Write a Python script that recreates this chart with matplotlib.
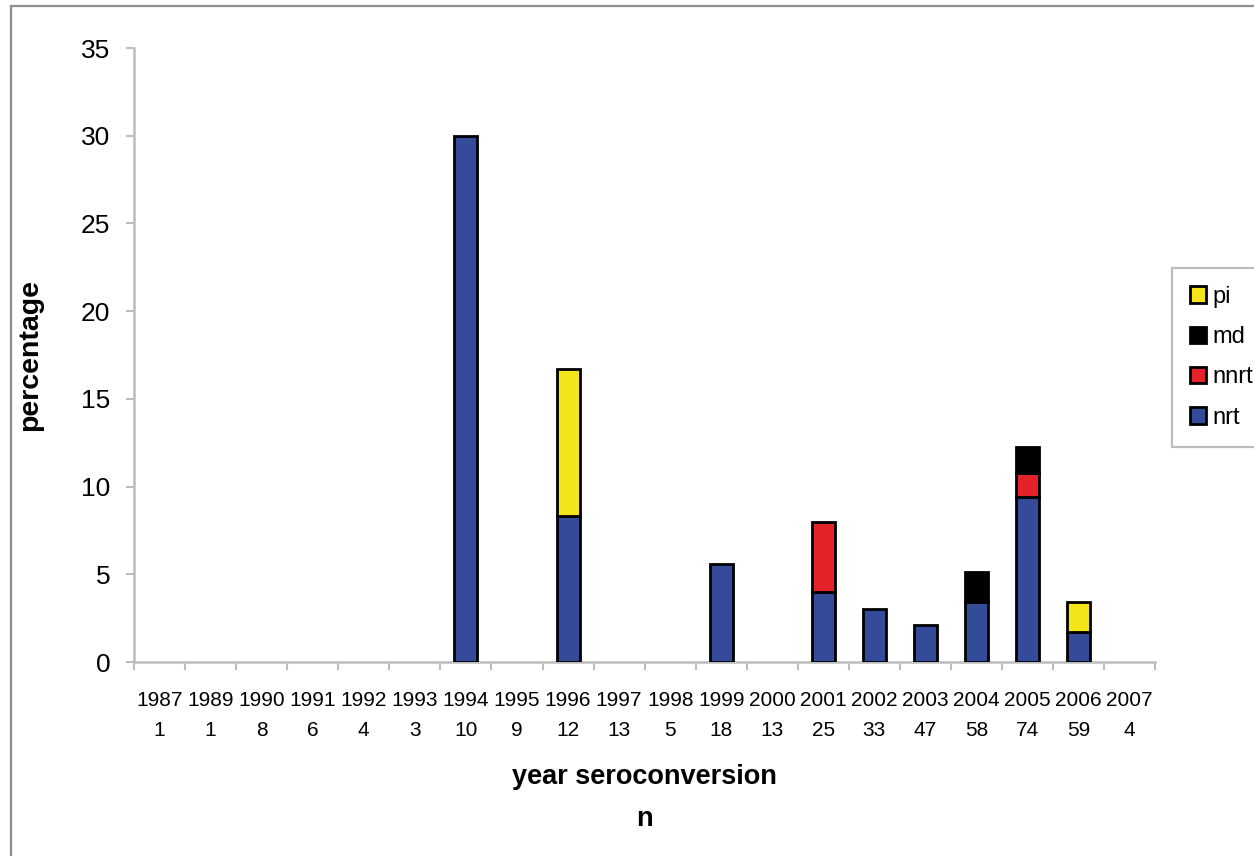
"""Stacked bars: resistance class percentage by year of seroconversion."""

import numpy as np
import matplotlib.pyplot as plt
from matplotlib.patches import Rectangle

plt.rcParams["font.family"] = ["Liberation Sans", "DejaVu Sans"]

years = ["1987", "1989", "1990", "1991", "1992", "1993", "1994", "1995", "1996", "1997",
         "1998", "1999", "2000", "2001", "2002", "2003", "2004", "2005", "2006", "2007"]
n_counts = ["1", "1", "8", "6", "4", "3", "10", "9", "12", "13",
            "5", "18", "13", "25", "33", "47", "58", "74", "59", "4"]

nrt = [0, 0, 0, 0, 0, 0, 30.0, 0, 8.3, 0, 0, 5.6, 0, 4.0, 3.0, 2.1, 3.4, 9.4, 1.7, 0]
nnrt = [0, 0, 0, 0, 0, 0, 0, 0, 0, 0, 0, 0, 0, 4.0, 0, 0, 0, 1.4, 0, 0]
md = [0, 0, 0, 0, 0, 0, 0, 0, 0, 0, 0, 0, 0, 0, 0, 0, 1.75, 1.45, 0, 0]
pi = [0, 0, 0, 0, 0, 0, 0, 0, 8.4, 0, 0, 0, 0, 0, 0, 0, 0, 0, 1.7, 0]

C_NRT = "#334B98"
C_NNRT = "#E4222A"
C_MD = "#000000"
C_PI = "#F3E51A"
AXIS_GREY = "#BDBDBD"


def main():
    fig = plt.figure(figsize=(12.54, 8.56), dpi=100)
    fig.patch.set_facecolor("white")
    ax = fig.add_axes([0.1069, 0.2266, 0.8143, 0.7173])

    # outer chart border (Excel-style frame, cut off on right/bottom)
    fig.patches.append(Rectangle((0.0085, -0.05), 1.2, 1.043, transform=fig.transFigure,
                                 fill=False, edgecolor="#8E8E8E", linewidth=1.6))

    x = np.arange(len(years))
    w = 0.45
    bottom = np.zeros(len(years))
    handles = {}
    for vals, label, color in [
        (nrt, "nrt", C_NRT),
        (nnrt, "nnrt", C_NNRT),
        (md, "md", C_MD),
        (pi, "pi", C_PI),
    ]:
        vals = np.array(vals, dtype=float)
        mask = vals > 0
        h = ax.bar(x[mask], vals[mask], w, bottom=bottom[mask], color=color,
                   edgecolor="black", linewidth=2.0, label=label, zorder=3)
        handles[label] = h
        bottom = bottom + vals

    ax.set_xlim(-0.5, len(years) - 0.5)
    ax.set_ylim(0, 35)
    ax.set_yticks(np.arange(0, 36, 5))

    ax.set_xticks(x)
    ax.set_xticklabels([f"{y}\n{c}" for y, c in zip(years, n_counts)],
                       fontsize=15, linespacing=1.75)
    ax.set_xticks(np.arange(-0.5, len(years)), minor=True)
    ax.tick_params(axis="x", which="major", length=0, pad=21)
    ax.tick_params(axis="x", which="minor", length=6, width=1.5, color=AXIS_GREY)
    ax.tick_params(axis="y", length=6, width=1.5, color=AXIS_GREY, labelsize=19, pad=11)

    for s in ["top", "right"]:
        ax.spines[s].set_visible(False)
    for s in ["left", "bottom"]:
        ax.spines[s].set_color(AXIS_GREY)
        ax.spines[s].set_linewidth(1.8)

    ax.set_xlabel("year seroconversion\nn", fontsize=19.5, fontweight="bold",
                  linespacing=1.8, labelpad=17)
    ax.set_ylabel("percentage", fontsize=20.5, fontweight="bold", labelpad=27)

    order = ["pi", "md", "nnrt", "nrt"]
    leg = fig.legend([handles[k] for k in order], order, loc="upper left",
                     bbox_to_anchor=(0.9346, 0.687), fontsize=17, frameon=True,
                     fancybox=False, edgecolor="#BDBDBD", framealpha=1,
                     handlelength=0.7, handleheight=0.7, handletextpad=0.25,
                     labelspacing=0.78, borderpad=0.75, borderaxespad=0)
    leg.get_frame().set_linewidth(1.6)

    fig.savefig("out.png", dpi=100, facecolor="white")
    plt.close(fig)


if __name__ == "__main__":
    main()
